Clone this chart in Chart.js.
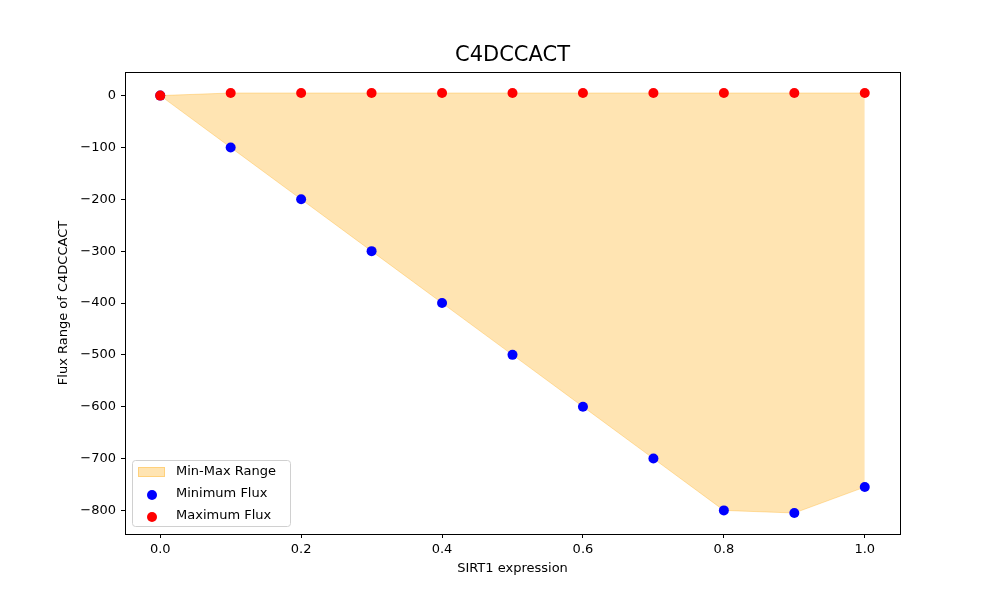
<!DOCTYPE html>
<html>
<head>
<meta charset="utf-8">
<script src="https://cdn.jsdelivr.net/npm/chart.js@4.4.0/dist/chart.umd.min.js"></script>
<style>
  html, body { margin: 0; padding: 0; background: #fff; }
  #wrap { width: 1000px; height: 600px; }
</style>
</head>
<body>
<div id="wrap"><canvas id="c" width="1000" height="600"></canvas></div>
<script>
// data
var sirt1 = [0.0, 0.1, 0.2, 0.3, 0.4, 0.5, 0.6, 0.7, 0.8, 0.9, 1.0];
var minFlux = [0, -100, -200, -300, -400, -500, -600, -700, -800, -805, -755];
var maxFlux = [0, 5, 5, 5, 5, 5, 5, 5, 5, 5, 5];
var xTicks = [0.0, 0.2, 0.4, 0.6, 0.8, 1.0];
var yTicks = [-800, -700, -600, -500, -400, -300, -200, -100, 0];

var FONT = 'DejaVu Sans';

function pts(ys) {
  return sirt1.map((x, i) => ({x: x, y: ys[i]}));
}

// title, frame round the plot + legend in lower left corner
var framePlugin = {
  id: 'frame',
  afterDraw(chart) {
    var ctx = chart.ctx, a = chart.chartArea;
    ctx.save();
    ctx.strokeStyle = '#000';
    ctx.lineWidth = 1;
    ctx.strokeRect(a.left + 0.5, a.top + 0.5, a.right - a.left, a.bottom - a.top);

    ctx.fillStyle = '#000';
    ctx.font = '21px "' + FONT + '"';
    ctx.textAlign = 'center';
    ctx.textBaseline = 'middle';
    ctx.fillText('C4DCCACT', (a.left + a.right) / 2, a.top - 16);

    // legend
    var lx = a.left + 7, ly = a.bottom - 74, lw = 158, lh = 66;
    ctx.fillStyle = 'rgba(255,255,255,0.8)';
    ctx.strokeStyle = '#d0d0d0';
    ctx.beginPath();
    ctx.roundRect(lx + 0.5, ly + 0.5, lw, lh, 3);
    ctx.fill();
    ctx.stroke();

    ctx.font = '13px "' + FONT + '"';
    ctx.textBaseline = 'middle';
    ctx.textAlign = 'left';
    var rows = [ly + 12, ly + 34, ly + 56];

    ctx.fillStyle = 'rgba(255,165,0,0.3)';
    ctx.strokeStyle = 'rgba(255,165,0,0.3)';
    ctx.fillRect(lx + 6, rows[0] - 5, 27, 10);
    ctx.strokeRect(lx + 6.5, rows[0] - 4.5, 26, 9);

    ctx.fillStyle = 'blue';
    ctx.beginPath(); ctx.arc(lx + 20, rows[1] + 1, 5, 0, Math.PI * 2); ctx.fill();
    ctx.fillStyle = 'red';
    ctx.beginPath(); ctx.arc(lx + 20, rows[2] + 1, 5, 0, Math.PI * 2); ctx.fill();

    ctx.fillStyle = '#000';
    ctx.fillText('Min-Max Range', lx + 44, rows[0]);
    ctx.fillText('Minimum Flux', lx + 44, rows[1]);
    ctx.fillText('Maximum Flux', lx + 44, rows[2]);
    ctx.restore();
  }
};

var ctx = document.getElementById('c');
var chart = new Chart(ctx, {
  type: 'line',
  data: {
    datasets: [
      {
        label: 'Min-Max Range',
        data: pts(maxFlux),
        borderColor: 'rgba(255,165,0,0.3)',
        backgroundColor: 'rgba(255,165,0,0.3)',
        borderWidth: 1,
        pointRadius: 0,
        fill: 1,
        tension: 0,
        order: 3
      },
      {
        label: 'range-low',
        data: pts(minFlux),
        borderColor: 'rgba(255,165,0,0.3)',
        borderWidth: 1,
        pointRadius: 0,
        fill: false,
        tension: 0,
        order: 4
      },
      {
        label: 'Minimum Flux',
        data: pts(minFlux),
        showLine: false,
        pointRadius: 5,
        pointBackgroundColor: 'blue',
        pointBorderColor: 'blue',
        pointBorderWidth: 0,
        order: 2
      },
      {
        label: 'Maximum Flux',
        data: pts(maxFlux),
        showLine: false,
        pointRadius: 5,
        pointBackgroundColor: 'red',
        pointBorderColor: 'red',
        pointBorderWidth: 0,
        order: 1
      }
    ]
  },
  options: {
    responsive: false,
    animation: false,
    layout: { padding: { left: 0, right: 100, top: 72, bottom: 0 } },
    plugins: {
      legend: { display: false },
      tooltip: { enabled: false },
      title: { display: false }
    },
    scales: {
      x: {
        type: 'linear',
        min: -0.05,
        max: 1.05,
        afterBuildTicks: s => { s.ticks = xTicks.map(v => ({value: v})); },
        afterFit: s => { s.height = 66; },
        ticks: {
          color: '#000',
          font: { family: FONT, size: 13 },
          padding: 4,
          maxRotation: 0,
          callback: v => v.toFixed(1)
        },
        grid: { display: true, drawOnChartArea: false, drawTicks: true, tickLength: 4, color: '#000' },
        border: { display: true, color: '#000' },
        title: {
          display: true,
          text: 'SIRT1 expression',
          color: '#000',
          font: { family: FONT, size: 13 },
          padding: { top: 4, bottom: 24 }
        }
      },
      y: {
        type: 'linear',
        min: -845.5,
        max: 45.5,
        afterBuildTicks: s => { s.ticks = yTicks.map(v => ({value: v})); },
        afterFit: s => { s.width = 125; },
        ticks: {
          color: '#000',
          font: { family: FONT, size: 13 },
          padding: 5,
          callback: v => String(v).replace('-', '\u2212')
        },
        grid: { display: true, drawOnChartArea: false, drawTicks: true, tickLength: 4, color: '#000' },
        border: { display: true, color: '#000' },
        title: {
          display: true,
          text: 'Flux Range of C4DCCACT',
          color: '#000',
          font: { family: FONT, size: 13 },
          padding: { top: 56, bottom: 6 }
        }
      }
    }
  },
  plugins: [framePlugin]
});
</script>
</body>
</html>
